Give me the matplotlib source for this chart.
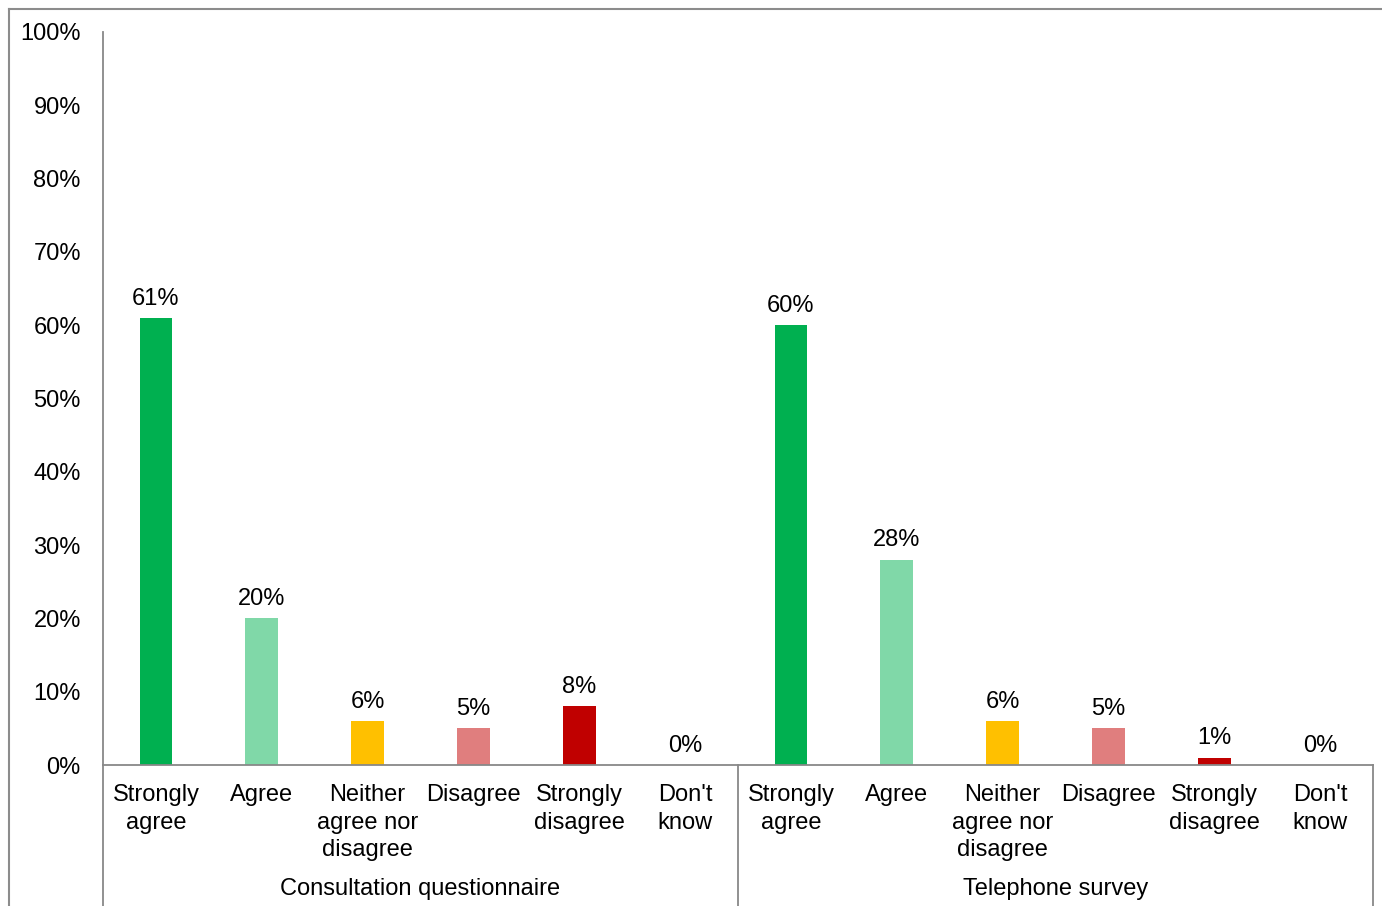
import numpy as np
import matplotlib.pyplot as plt
from matplotlib.lines import Line2D

plt.rcParams['font.family'] = ['Liberation Sans', 'DejaVu Sans']

groups = ['Consultation questionnaire', 'Telephone survey']
categories = ['Strongly\nagree', 'Agree', 'Neither\nagree nor\ndisagree', 'Disagree',
              'Strongly\ndisagree', "Don't\nknow"]
consultation = [61, 20, 6, 5, 8, 0]
telephone = [60, 28, 6, 5, 1, 0]
colors = ['#00B050', '#80D8A8', '#FFC000', '#E07E7E', '#C00000', '#7F7F7F']

W, H = 1382, 906
fig = plt.figure(figsize=(W / 100, H / 100), dpi=100)
ax = fig.add_axes([103 / W, 1 - 765 / H, (1373 - 103) / W, (765 - 32) / H])

values = consultation + telephone
labels = categories + categories
cols = colors + colors
x = np.arange(len(values))
ax.bar(x, values, width=0.31, color=cols)

fs = 17
for xi, v in zip(x, values):
    ax.annotate(f'{v}%', (xi, v), xytext=(0, 6), textcoords='offset points',
                ha='center', va='bottom', fontsize=fs, color='#000000')

ax.set_xlim(-0.5, len(values) - 0.5)
ax.set_ylim(0, 100)
ax.set_yticks(np.arange(0, 101, 10))
ax.set_yticklabels([f'{t}%' for t in range(0, 101, 10)], fontsize=fs)
ax.tick_params(axis='y', length=0, pad=16)
ax.set_xticks([])
for s in ['top', 'right']:
    ax.spines[s].set_visible(False)
for s in ['left', 'bottom']:
    ax.spines[s].set_color('#888888')
    ax.spines[s].set_linewidth(1.3)

ah = 765 - 32
trans = ax.get_xaxis_transform()
for xi, lab in zip(x, labels):
    ax.text(xi, -19 / ah, lab, transform=trans, ha='center', va='top',
            fontsize=fs, linespacing=1.33)

n = len(categories)
for gi, g in enumerate(groups):
    ax.text(gi * n + (n - 1) / 2, -(889 - 765) / ah, g, transform=trans,
            ha='center', va='center', fontsize=fs)

for sx in [-0.5, n - 0.5, 2 * n - 0.5]:
    ax.add_line(Line2D([sx, sx], [0, -(H - 765) / ah], transform=trans,
                       color='#888888', lw=1.3, clip_on=False))

# outer chart border (cropped)
fig.add_artist(Line2D([9 / W, 9 / W], [0, 1 - 9 / H], transform=fig.transFigure,
                      color='#8C8C8C', lw=1.5))
fig.add_artist(Line2D([9 / W, 1], [1 - 9 / H, 1 - 9 / H], transform=fig.transFigure,
                      color='#8C8C8C', lw=1.5))

fig.savefig('out.png', dpi=100)
